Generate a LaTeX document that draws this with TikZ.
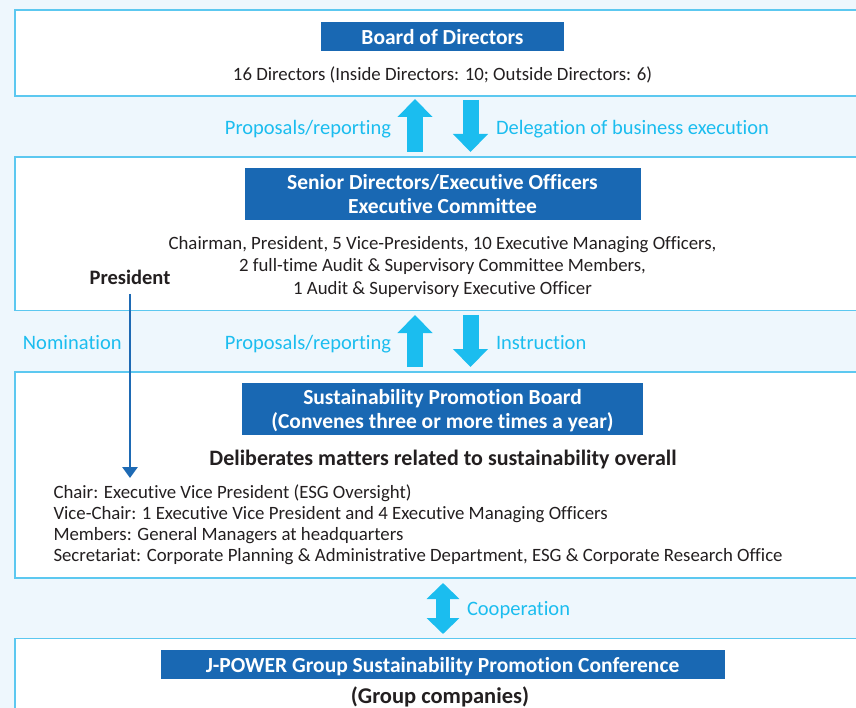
\documentclass[tikz,border=0pt]{standalone}
\usepackage{fontspec}
\setmainfont{Carlito}[Ligatures=NoCommon]
\usetikzlibrary{arrows.meta,positioning}
\definecolor{pagebg}{HTML}{EEF7FD}
\definecolor{frameblue}{HTML}{5CC8F0}
\definecolor{headblue}{HTML}{1968B3}
\definecolor{flowcyan}{HTML}{1BBDEF}
\definecolor{navyline}{HTML}{1E6AB4}
\definecolor{inktext}{HTML}{231F20}

\begin{document}
\begin{tikzpicture}[x=1pt,y=1pt,every node/.style={inner sep=0pt,outer sep=0pt,text=inktext}]
  \tikzstyle{panel} = [draw=frameblue,line width=1.6pt,fill=white,minimum width=855pt];
  \tikzstyle{head} = [fill=headblue,text=white,font=\fontsize{21.5}{24}\selectfont\bfseries,align=center,text depth=0pt];
  \tikzstyle{body} = [font=\fontsize{18.8}{22.5}\selectfont,align=center];
  \tikzstyle{flow} = [text=flowcyan,font=\fontsize{20.5}{22}\selectfont,text height=15pt,text depth=4pt];
  \tikzset{blockarrow/.style={line width=16pt,draw=flowcyan,-{Triangle[width=34pt,length=18pt]}},
    twoway/.style={line width=14pt,draw=flowcyan,{Triangle[width=32pt,length=16pt]}-{Triangle[width=32pt,length=16pt]}},
    nomarrow/.style={line width=2.8pt,draw=navyline,-{Triangle[width=15pt,length=11pt]}}};
  \useasboundingbox (0,0) rectangle (856,-708);
  \fill[pagebg] (0,0) rectangle (856,-708);
  \node[panel,minimum height=86pt] (board) at (442.5,-53) {};
  \node[panel,minimum height=153.5pt] (exec) at (442.5,-233.75) {};
  \node[panel,minimum height=206pt] (spb) at (442.5,-475) {};
  \node[panel,minimum height=100pt] (conf) at (442.5,-688.5) {};
  \node[head,minimum width=243pt,minimum height=29pt,below=12pt of board.north] (boardhead) {Board of Directors};
  \node[head,minimum width=396pt,minimum height=52pt,below=11pt of exec.north] (exechead) {Senior Directors/Executive Officers\\Executive Committee};
  \node[head,minimum width=401pt,minimum height=52pt,below=11pt of spb.north] (spbhead) {Sustainability Promotion Board\\(Convenes three or more times a year)};
  \node[head,minimum width=564pt,minimum height=29pt,below=11.5pt of conf.north] (confhead) {J-POWER Group Sustainability Promotion Conference};
  \node[body] (boardnote) at (442.5,-74.5) {16 Directors (Inside Directors: 10; Outside Directors: 6)};
  \node[body] (execnote) at (442.5,-266.5) {Chairman, President, 5 Vice-Presidents, 10 Executive Managing Officers,\\2 full-time Audit \& Supervisory Committee Members,\\1 Audit \& Supervisory Executive Officer};
  \node[font=\fontsize{20.5}{22}\selectfont\bfseries] (president) at (130,-277.5) {President};
  \node[font=\fontsize{22}{24}\selectfont\bfseries] (spbremit) at (443,-459.5) {Deliberates matters related to sustainability overall};
  \node[font=\fontsize{18.8}{21}\selectfont,align=left,anchor=west] (spbmembers) at (53.5,-525) {Chair: Executive Vice President (ESG Oversight)\\Vice-Chair: 1 Executive Vice President and 4 Executive Managing Officers\\Members: General Managers at headquarters\\Secretariat: Corporate Planning \& Administrative Department, ESG \& Corporate Research Office};
  \node[font=\fontsize{22.5}{24}\selectfont\bfseries] (confnote) at (440,-697) {(Group companies)};
  \draw[blockarrow] ([xshift=-27.5pt,yshift=5pt]exec.north) -- ([xshift=-27.5pt,yshift=-3pt]board.south);
  \draw[blockarrow] ([xshift=28pt,yshift=-4pt]board.south) -- ([xshift=28pt,yshift=5pt]exec.north);
  \draw[blockarrow] ([xshift=-27.5pt,yshift=5pt]spb.north) -- ([xshift=-27.5pt,yshift=-4.5pt]exec.south);
  \draw[blockarrow] ([xshift=28pt,yshift=-4.5pt]exec.south) -- ([xshift=28pt,yshift=5pt]spb.north);
  \draw[twoway] ([xshift=0.5pt,yshift=-5pt]spb.south) -- ([xshift=0.5pt,yshift=4.5pt]conf.north);
  \node[flow,anchor=east] (upnote) at (391,-129) {Proposals/reporting};
  \node[flow,anchor=west] (downnote) at (496,-129) {Delegation of business execution};
  \node[flow,anchor=east] (upnote2) at (391,-344) {Proposals/reporting};
  \node[flow,anchor=west] (downnote2) at (496,-344) {Instruction};
  \node[flow,anchor=west] (nomnote) at (23,-344) {Nomination};
  \node[flow,anchor=west] (coopnote) at (467,-610) {Cooperation};
  \coordinate (nomtip) at (130,-478);
  \draw[nomarrow] ([yshift=-9pt]president.south) -- (nomtip);
\end{tikzpicture}
\end{document}
